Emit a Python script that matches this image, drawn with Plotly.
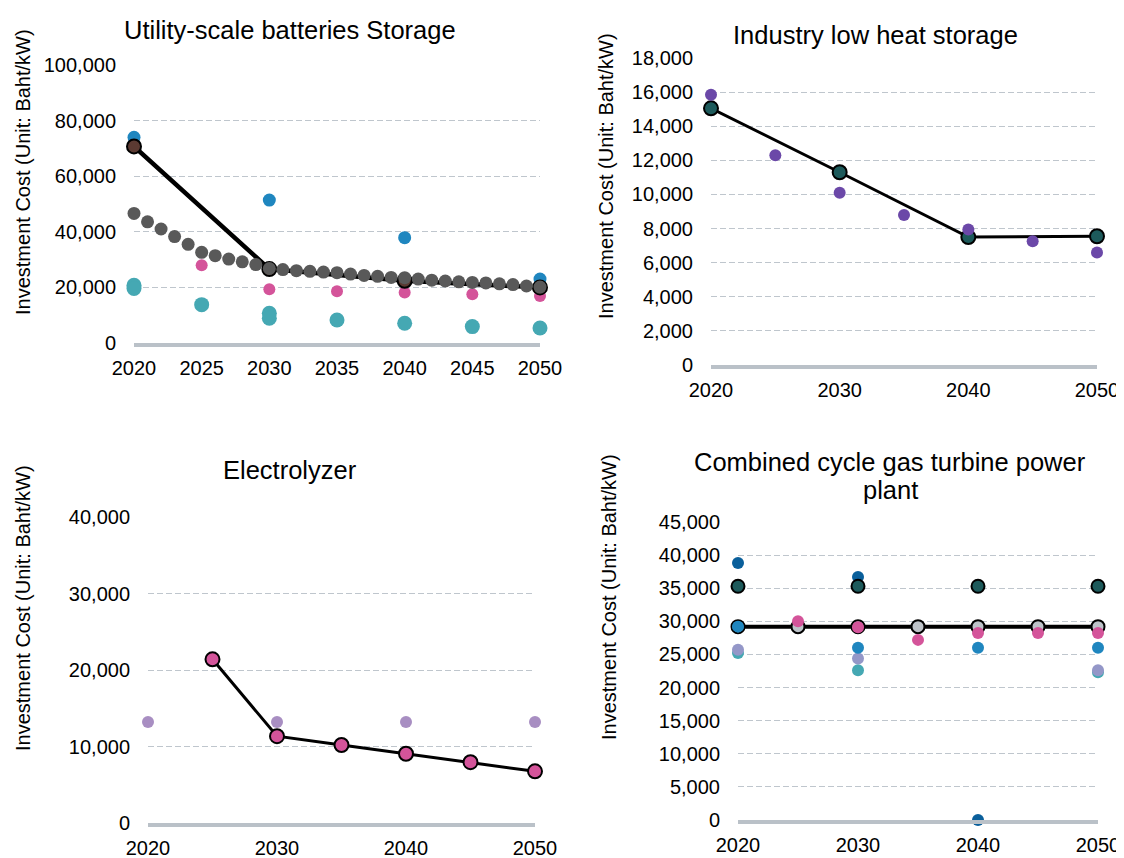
import plotly.graph_objects as go

W, H = 1124, 858
OFF = 8  # default page body margin of the html page
FONT = "Liberation Sans, Arial, sans-serif"
TEXT = "#000000"

# ---------------- data ----------------
years_5 = [2020, 2025, 2030, 2035, 2040, 2045, 2050]
years_10 = [2020, 2030, 2040, 2050]
years_annual = [2020, 2021, 2022, 2023, 2024, 2025, 2026, 2027, 2028, 2029, 2030,
                2031, 2032, 2033, 2034, 2035, 2036, 2037, 2038, 2039, 2040,
                2041, 2042, 2043, 2044, 2045, 2046, 2047, 2048, 2049, 2050]

# Utility-scale batteries Storage
bat_gray = [46600, 43600, 41000, 38300, 35500, 32600, 31400, 30200, 29200, 28200, 26800,
            26400, 26000, 25800, 25500, 25300, 24800, 24300, 24000, 23600, 23500,
            23000, 22600, 22300, 22000, 21800, 21600, 21300, 21000, 20500, 20100]
bat_line = [70700, 26600, 22400, 20000]
bat_blue = [74000, 51400, 37900, 23000]
bat_pink_years = [2025, 2030, 2035, 2040, 2045, 2050]
bat_pink = [28000, 19300, 18600, 18200, 17500, 16900]
bat_teal_a = [20800, 13800, 10700, 8300, 7100, 5900, 5400]
bat_teal_b_years = [2020, 2030]
bat_teal_b = [19600, 8900]

# Industry low heat storage
heat_line = [15050, 11300, 7500, 7550]
heat_purple = [15850, 12300, 10100, 8800, 7950, 7250, 6600]

# Electrolyzer
elec_line_years = [2025, 2030, 2035, 2040, 2045, 2050]
elec_line = [21400, 11350, 10200, 9050, 7950, 6750]
elec_purple = [13200, 13200, 13200, 13200]

# Combined cycle gas turbine power plant
ccgt_line = [29200, 29200, 29200, 29200, 29200, 29200, 29200]
ccgt_darkteal = [35300, 35300, 35300, 35300]
ccgt_darkblue_years = [2020, 2030, 2040]
ccgt_darkblue = [38800, 36700, 0]
ccgt_blue = [29200, 26000, 26000, 26000]
ccgt_pink_years = [2025, 2030, 2035, 2040, 2045, 2050]
ccgt_pink = [30000, 29100, 27200, 28250, 28250, 28250]
ccgt_lav_years = [2020, 2030, 2050]
ccgt_lav = [25700, 24400, 22600]
ccgt_teal_years = [2020, 2030, 2050]
ccgt_teal = [25200, 22600, 22300]

title_lines = ["Utility-scale batteries Storage", "Industry low heat storage",
               "Electrolyzer", "Combined cycle gas turbine power", "plant"]
ytitle = "Investment Cost (Unit: Baht/kW)"

# ---------------- colours ----------------
C_BLUE = "#1F86BF"
C_DBLUE = "#0A5F9B"
C_TEAL = "#45A8B3"
C_PINK = "#D4549A"
C_GRAY = "#595959"
C_BROWN = "#5B3A32"
C_PURPLE = "#6B48A8"
C_DTEAL = "#1D5A5B"
C_LPURPLE = "#A88EC2"
C_LAV = "#9497C8"
C_LGRAY = "#BDC3C9"
C_AXIS = "#BAC1C8"
C_GRID = "#BFC6CD"

fig = go.Figure()


def dots(x, y, color, size, ax):
    fig.add_trace(go.Scatter(x=x, y=y, mode="markers", xaxis="x" + ax, yaxis="y" + ax,
                             marker=dict(color=color, size=size, line=dict(width=0)),
                             cliponaxis=False, showlegend=False, hoverinfo="skip"))


def line(x, y, color, size, lw, ax):
    fig.add_trace(go.Scatter(x=x, y=y, mode="lines+markers", xaxis="x" + ax, yaxis="y" + ax,
                             line=dict(color="black", width=lw),
                             marker=dict(color=color, size=size, line=dict(width=2, color="black")),
                             cliponaxis=False, showlegend=False, hoverinfo="skip"))


# panel 1
dots(years_5, bat_teal_a, C_TEAL, 15, "")
dots(bat_teal_b_years, bat_teal_b, C_TEAL, 15, "")
dots(bat_pink_years, bat_pink, C_PINK, 12, "")
dots(years_10, bat_blue, C_BLUE, 13, "")
line(years_10, bat_line, C_BROWN, 14, 4.5, "")
dots(years_annual, bat_gray, C_GRAY, 13, "")

# panel 2
line(years_10, heat_line, C_DTEAL, 14, 3, "2")
dots(years_5, heat_purple, C_PURPLE, 12, "2")

# panel 3
dots(years_10, elec_purple, C_LPURPLE, 12, "3")
line(elec_line_years, elec_line, C_PINK, 14, 3, "3")

# panel 4
dots(ccgt_teal_years, ccgt_teal, C_TEAL, 12, "4")
dots(ccgt_lav_years, ccgt_lav, C_LAV, 12, "4")
dots(ccgt_darkblue_years, ccgt_darkblue, C_DBLUE, 12, "4")
line(years_10, ccgt_darkteal, C_DTEAL, 13, 0.01, "4")
line(years_5, ccgt_line, C_LGRAY, 13, 4, "4")
dots(years_10, ccgt_blue, C_BLUE, 12, "4")
dots(ccgt_pink_years, ccgt_pink, C_PINK, 12, "4")


# page pixel -> paper fraction (figure is drawn 8 px in from the page corner)
def px_x(v):
    return (v - OFF) / W


def px_y(v):
    return (H - (v - OFF)) / H


# plot areas in page pixels: (x0, x1, ytop, ybottom)
panels = [
    (134, 540, 65, 343, 100000, 20000, 5),
    (711, 1097, 58, 365, 18000, 2000, 10),
    (148, 535, 517, 823, 40000, 10000, 10),
    (738, 1098, 522, 820, 45000, 5000, 10),
]

layout_axes = {}
for i, (x0, x1, yt, yb, ymax, dy, dx) in enumerate(panels):
    sfx = "" if i == 0 else str(i + 1)
    anchor = "y" + sfx
    layout_axes["xaxis" + sfx] = dict(
        domain=[px_x(x0), px_x(x1)], anchor=anchor, range=[2020, 2050],
        tickmode="linear", tick0=2020, dtick=dx, showgrid=False, zeroline=False,
        showline=True, linecolor=C_AXIS, linewidth=4, ticks="",
        ticklabelstandoff=4, automargin=False, ticklabeloverflow="allow",
        tickfont=dict(family=FONT, size=20, color=TEXT), fixedrange=True)
    layout_axes["yaxis" + sfx] = dict(
        domain=[px_y(yb), px_y(yt)], anchor="x" + sfx, range=[0, ymax],
        tickmode="linear", tick0=0, dtick=dy, showgrid=True, gridcolor=C_GRID,
        gridwidth=1.3, griddash="6px,3px", zeroline=False, showline=False,
        ticks="", tickformat=",d", ticklabelstandoff=17, automargin=False,
        ticklabeloverflow="allow",
        tickfont=dict(family=FONT, size=20, color=TEXT), fixedrange=True)

annotations = []
title_pos = [(290, 30), (875, 35), (290, 470), (890, 462), (890, 490)]
for t, (cx, cy) in zip(title_lines, title_pos):
    annotations.append(dict(text=t, x=px_x(cx), y=px_y(cy), xref="paper", yref="paper",
                            xanchor="center", yanchor="middle", showarrow=False,
                            font=dict(family=FONT, size=25.5, color=TEXT)))
ytitle_pos = [(23, 172), (606, 176), (23, 608), (609, 597)]
for (cx, cy) in ytitle_pos:
    annotations.append(dict(text=ytitle, x=px_x(cx), y=px_y(cy), xref="paper", yref="paper",
                            xanchor="center", yanchor="middle", showarrow=False, textangle=-90,
                            font=dict(family=FONT, size=20, color=TEXT)))

fig.update_layout(
    width=W, height=H, margin=dict(l=0, r=0, t=0, b=0, autoexpand=False),
    paper_bgcolor="white", plot_bgcolor="white", showlegend=False,
    annotations=annotations, **layout_axes)

fig.write_html("out.html")
